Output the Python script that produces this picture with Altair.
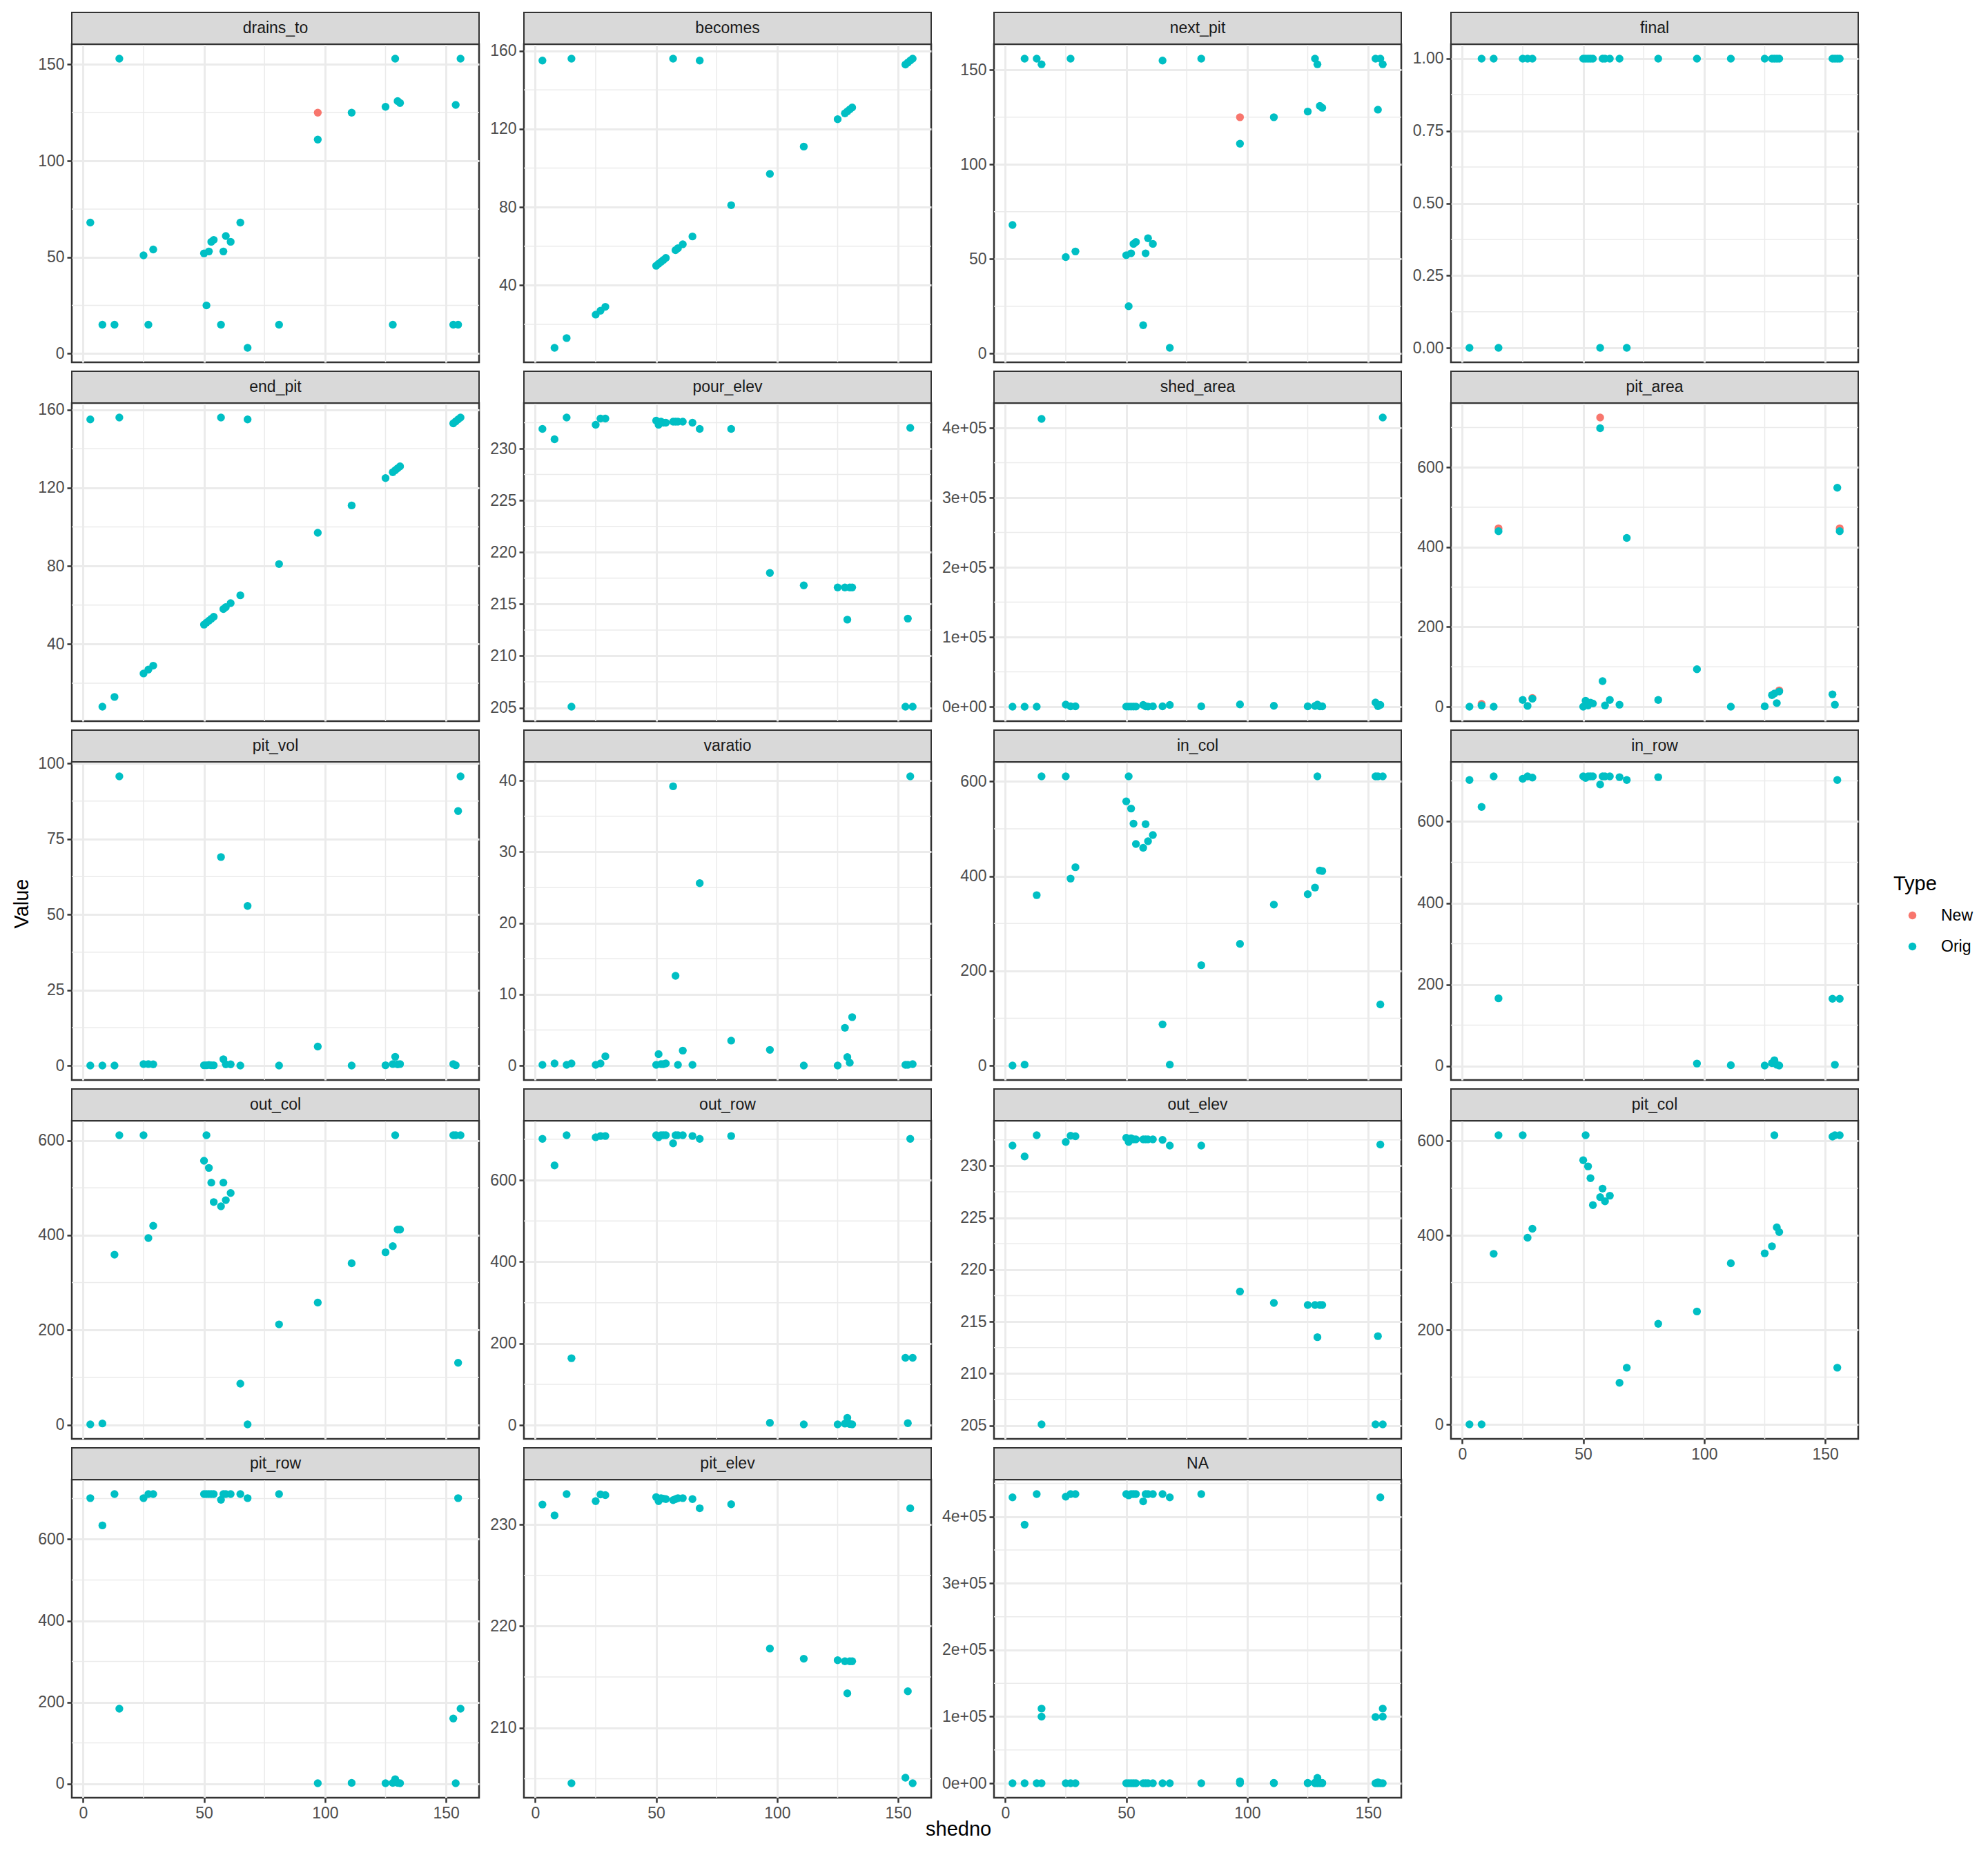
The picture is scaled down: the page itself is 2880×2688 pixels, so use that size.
import pandas as pd
import altair as alt

FONT = "Liberation Sans"

# x values shared by every panel
shedno = [3, 8, 13, 15, 25, 27, 29, 50, 51, 52, 53, 54, 57, 58, 59, 61,
          65, 68, 81, 97, 111, 125, 128, 129, 130, 131, 153, 154, 155, 156]

# Orig values, one list per variable (same order as shedno)
drains_to = [68, 15, 15, 153, 51, 15, 54, 52, 25, 53, 58, 59, 15, 53, 61, 58,
             68, 3, 15, 111, 125, 128, 15, 153, 131, 130, 15, 129, 15, 153]
becomes = [155, 8, 13, 156, 25, 27, 29, 50, 51, 52, 53, 54, 156, 58, 59, 61,
           65, 155, 81, 97, 111, 125, 128, 129, 130, 131, 153, 154, 155, 156]
next_pit = [68, 156, 156, 153, 51, 156, 54, 52, 25, 53, 58, 59, 15, 53, 61, 58,
            155, 3, 156, 111, 125, 128, 156, 153, 131, 130, 156, 129, 156, 153]
final = [0, 1, 1, 0, 1, 1, 1, 1, 1, 1, 1, 1, 0, 1, 1, 1,
         1, 0, 1, 1, 1, 1, 1, 1, 1, 1, 1, 1, 1, 1]
end_pit = [155, 8, 13, 156, 25, 27, 29, 50, 51, 52, 53, 54, 156, 58, 59, 61,
           65, 155, 81, 97, 111, 125, 128, 129, 130, 131, 153, 154, 155, 156]
pour_elev = [231.9, 230.9, 233.0, 205.1, 232.3, 232.9, 232.9, 232.7, 232.3, 232.6,
             232.5, 232.5, 232.6, 232.6, 232.6, 232.6, 232.5, 231.9, 231.9, 218.0,
             216.8, 216.6, 216.6, 213.5, 216.6, 216.6, 205.1, 213.6, 232.0, 205.1]
shed_area = [0, 0, 0, 413000, 3000, 500, 500, 200, 200, 200, 200, 200, 2600, 500, 200, 500,
             500, 2600, 500, 3300, 1300, 500, 1000, 3000, 500, 500, 6000, 700, 2600, 415000]
pit_area = [0, 3, 0, 440, 17, 2, 20, 0, 15, 3, 10, 8, 698, 64, 3, 17,
            5, 423, 17, 94, 0, 1, 29, 33, 9, 38, 31, 5, 549, 440]
pit_vol = [0, 0, 0, 95.7, 0.5, 0.5, 0.4, 0.1, 0.1, 0.2, 0.1, 0.1, 69.0, 2.1, 0.4, 0.4,
           0, 52.8, 0, 6.3, 0, 0.1, 0.5, 2.9, 0.4, 0.5, 0.5, 0.1, 84.2, 95.7]
varatio = [0.1, 0.3, 0.1, 0.3, 0.1, 0.3, 1.3, 0.1, 1.6, 0.2, 0.2, 0.3, 39.2, 12.6, 0.1, 2.1,
           0.1, 25.6, 3.5, 2.2, 0, 0, 5.3, 1.2, 0.4, 6.8, 0.1, 0.1, 40.6, 0.2]
in_col = [0, 2, 360, 611, 611, 395, 419, 558, 611, 543, 511, 468, 460, 510, 474, 487,
          87, 2, 212, 257, 340, 362, 376, 611, 412, 411, 611, 611, 129, 611]
in_row = [702, 636, 711, 166, 705, 711, 708, 711, 707, 711, 711, 711, 691, 711, 711, 711,
          709, 702, 709, 6, 2, 1, 7, 14, 3, 1, 165, 3, 702, 165]
out_col = [1, 3, 359, 611, 611, 394, 420, 557, 611, 542, 511, 470, 461, 511, 474, 489,
           87, 1, 212, 258, 341, 364, 377, 611, 412, 412, 611, 611, 131, 611]
out_row = [701, 636, 710, 164, 705, 708, 708, 710, 705, 710, 710, 710, 690, 710, 710, 710,
           708, 701, 708, 6, 2, 2, 4, 18, 3, 2, 165, 5, 701, 165]
out_elev = [231.95, 230.9, 232.95, 205.1, 232.3, 232.9, 232.85, 232.7, 232.3, 232.65,
            232.55, 232.55, 232.55, 232.55, 232.55, 232.55, 232.5, 231.95, 231.95, 217.9,
            216.8, 216.6, 216.6, 213.5, 216.6, 216.6, 205.1, 213.6, 232.05, 205.1]
pit_col = [0, 0, 361, 612, 612, 395, 414, 559, 612, 546, 521, 464, 481, 499, 472, 484,
           88, 120, 213, 239, 341, 362, 377, 612, 417, 407, 609, 612, 120, 612]
pit_row = [701, 634, 711, 184, 701, 711, 711, 711, 711, 711, 711, 711, 697, 711, 711, 711,
           711, 701, 711, 1, 2, 1, 2, 11, 2, 1, 160, 1, 701, 184]
pit_elev = [231.97, 230.9, 233.0, 204.55, 232.3, 232.96, 232.9, 232.7, 232.3, 232.6,
            232.55, 232.5, 232.4, 232.5, 232.6, 232.6, 232.5, 231.6, 232.0, 217.8,
            216.8, 216.65, 216.55, 213.4, 216.55, 216.55, 205.1, 213.6, 231.6, 204.55]
# the unlabelled "NA" panel holds several values per shedno
na_a = [429000, 388000, 434000, 112000, 430000, 434000, 434000, 434000, 432000, 434000,
        434000, 434000, 423000, 434000, 434000, 434000, 434000, 429000, 434000, 3000,
        500, 500, 1000, 8000, 1000, 500, 99500, 1500, 429000, 112000]
na_b = [0, 0, 0, 100000, 0, 0, 0, 0, 0, 0, 0, 0, 0, 0, 0, 0,
        0, 0, 0, 0, 0, 0, 0, 0, 0, 0, 0, 0, 0, 100000]
na_extra_shedno = [15, 156]
na_extra = [0, 0]

# "New" values that differ from Orig
new_panel = ["drains_to", "next_pit", "pit_area", "pit_area", "pit_area",
             "pit_area", "pit_area", "pit_area"]
new_shedno = [97, 97, 8, 15, 29, 57, 131, 156]
new_value = [125, 125, 7, 447, 22, 725, 41, 447]

panel_order = ["drains_to", "becomes", "next_pit", "final", "end_pit", "pour_elev",
               "shed_area", "pit_area", "pit_vol", "varatio", "in_col", "in_row",
               "out_col", "out_row", "out_elev", "pit_col", "pit_row", "pit_elev", "NA"]
series = {
    "drains_to": drains_to, "becomes": becomes, "next_pit": next_pit, "final": final,
    "end_pit": end_pit, "pour_elev": pour_elev, "shed_area": shed_area,
    "pit_area": pit_area, "pit_vol": pit_vol, "varatio": varatio, "in_col": in_col,
    "in_row": in_row, "out_col": out_col, "out_row": out_row, "out_elev": out_elev,
    "pit_col": pit_col, "pit_row": pit_row, "pit_elev": pit_elev,
}
y_ticks = {
    "drains_to": [0, 50, 100, 150], "becomes": [40, 80, 120, 160],
    "next_pit": [0, 50, 100, 150], "final": [0, 0.25, 0.5, 0.75, 1],
    "end_pit": [40, 80, 120, 160], "pour_elev": [205, 210, 215, 220, 225, 230],
    "shed_area": [0, 100000, 200000, 300000, 400000], "pit_area": [0, 200, 400, 600],
    "pit_vol": [0, 25, 50, 75, 100], "varatio": [0, 10, 20, 30, 40],
    "in_col": [0, 200, 400, 600], "in_row": [0, 200, 400, 600],
    "out_col": [0, 200, 400, 600], "out_row": [0, 200, 400, 600],
    "out_elev": [205, 210, 215, 220, 225, 230], "pit_col": [0, 200, 400, 600],
    "pit_row": [0, 200, 400, 600], "pit_elev": [210, 220, 230],
    "NA": [0, 100000, 200000, 300000, 400000],
}
x_ticks = [0, 50, 100, 150]
x_axis_panels = ["pit_col", "pit_row", "pit_elev", "NA"]

rows = []
for p, s, v in zip(new_panel, new_shedno, new_value):
    rows.append({"panel": p, "shedno": s, "value": v, "Type": "New"})
for name, vals in series.items():
    for s, v in zip(shedno, vals):
        rows.append({"panel": name, "shedno": s, "value": v, "Type": "Orig"})
for vals in (na_a, na_b):
    for s, v in zip(shedno, vals):
        rows.append({"panel": "NA", "shedno": s, "value": v, "Type": "Orig"})
for s, v in zip(na_extra_shedno, na_extra):
    rows.append({"panel": "NA", "shedno": s, "value": v, "Type": "Orig"})
df = pd.DataFrame(rows)

W, H, STRIP = 590, 461, 46

x_lo, x_hi = min(shedno), max(shedno)
x_pad = 0.05 * (x_hi - x_lo)
x_scale = alt.Scale(domain=[x_lo - x_pad, x_hi + x_pad], nice=False, zero=False)
x_minor = [25, 75, 125]

color = alt.Color(
    "Type:N",
    scale=alt.Scale(domain=["New", "Orig"], range=["#F8766D", "#00BFC4"]),
    legend=alt.Legend(title="Type", orient="none", legendX=2639, legendY=1203),
)

E_LABELS = "datum.value == 0 ? '0e+00' : format(datum.value / 100000, 'd') + 'e+05'"


def panel(name):
    d = df[df["panel"] == name]
    lo, hi = d["value"].min(), d["value"].max()
    pad = 0.05 * (hi - lo)
    y_scale = alt.Scale(domain=[lo - pad, hi + pad], nice=False, zero=False)

    majors = y_ticks[name]
    step = majors[1] - majors[0]
    minors = [m + step / 2 for m in [majors[0] - step] + majors
              if lo - pad <= m + step / 2 <= hi + pad]

    y_kw = {"values": majors, "grid": True, "title": None}
    if name in ("shed_area", "NA"):
        y_kw["labelExpr"] = E_LABELS
    elif name == "final":
        y_kw["format"] = ".2f"
    if name == "pit_vol":
        y_kw["title"] = "Value"
        y_kw["titlePadding"] = 8
        y_kw["titleY"] = 205

    show_x = name in x_axis_panels
    x_axis = alt.Axis(values=x_ticks, grid=True, labels=show_x, ticks=show_x, title=None)
    y_axis = alt.Axis(**y_kw)

    # minor grid lines, sharing the panel's axes so they merge cleanly
    grid_x = alt.Chart(pd.DataFrame({"m": x_minor})).mark_rule(
        color="#EBEBEB", strokeWidth=1.5
    ).encode(x=alt.X("m:Q", scale=x_scale, axis=x_axis))
    grid_y = alt.Chart(pd.DataFrame({"m": minors})).mark_rule(
        color="#EBEBEB", strokeWidth=1.5
    ).encode(y=alt.Y("m:Q", scale=y_scale, axis=y_axis))

    points = alt.Chart(d).mark_circle(size=130, opacity=1).encode(
        x=alt.X("shedno:Q", scale=x_scale, axis=x_axis),
        y=alt.Y("value:Q", scale=y_scale, axis=y_axis),
        color=color,
    )

    strip_df = pd.DataFrame({"label": [name]})
    strip = alt.Chart(strip_df).mark_rect(
        fill="#D9D9D9", stroke="#333333", strokeWidth=2
    ).encode(x=alt.value(0), x2=alt.value(W), y=alt.value(-STRIP), y2=alt.value(0))
    strip_text = alt.Chart(strip_df).mark_text(
        font=FONT, fontSize=23, color="#1A1A1A", baseline="middle", align="center"
    ).encode(text="label:N", x=alt.value(W / 2), y=alt.value(-STRIP / 2))

    return alt.layer(grid_x, grid_y, points, strip, strip_text).properties(width=W, height=H)


# one flush column per facet column, columns laid side by side so each
# column leaves room for its own tick labels (as facet_wrap does)
columns = []
for i in range(4):
    cells = [panel(n) for n in panel_order[i::4]]
    columns.append(alt.vconcat(*cells, spacing=59, bounds="flush"))

chart = alt.hconcat(*columns, spacing=11, bounds="full").properties(
    padding={"left": 8, "top": 7, "right": 5, "bottom": 5},
    title=alt.TitleParams(
        "shedno", orient="bottom", anchor="middle", dx=-49,
        fontSize=29, fontWeight="normal", font=FONT, color="#000000", offset=-3,
    ),
).configure(
    font=FONT
).configure_axis(
    labelFont=FONT, labelFontSize=23, labelColor="#4D4D4D", labelPadding=4,
    tickColor="#333333", tickSize=7, tickWidth=2.5, domain=False,
    gridColor="#EBEBEB", gridWidth=3,
    titleFont=FONT, titleFontSize=29, titleFontWeight="normal", titleColor="#000000",
).configure_view(
    stroke="#333333", strokeWidth=2.5
).configure_legend(
    titleFont=FONT, titleFontSize=29, titleFontWeight="normal", titleColor="#000000",
    labelFont=FONT, labelFontSize=23, labelColor="#000000",
    symbolType="circle", symbolSize=130, symbolStrokeWidth=0, symbolOpacity=1,
    rowPadding=21, titlePadding=19, labelOffset=30, symbolOffset=16,
)

chart.save("out.html", embed_options={"renderer": "svg", "actions": False})
